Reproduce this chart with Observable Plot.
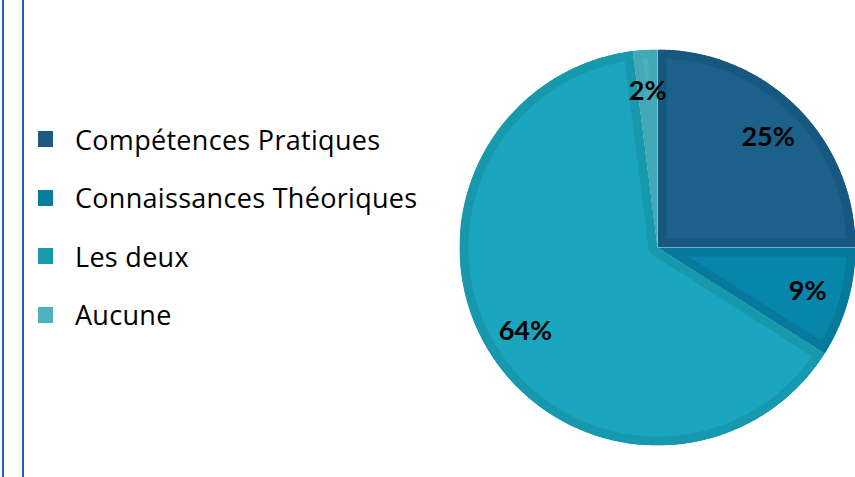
<!DOCTYPE html>
<html><head><meta charset="utf-8">
<script src="https://cdn.jsdelivr.net/npm/d3@7"></script>
<script src="https://cdn.jsdelivr.net/npm/@observablehq/plot@0.6"></script>
<style>
html,body{margin:0;padding:0;background:#fff;}
#wrap{position:relative;width:855px;height:477px;overflow:hidden;font-family:"Open Sans",Lato,sans-serif;}
.vline{position:absolute;top:0;bottom:0;width:2px;background:#2265a3;}
#legend{position:absolute;left:38px;top:110px;}
.row{height:58.5px;display:flex;align-items:center;}
.sw{width:15px;height:16px;margin-right:22px;flex:none;}
.lab{font-size:27px;letter-spacing:0.3px;color:#000;white-space:nowrap;font-variant-ligatures:none;}
#chart{position:absolute;left:0;top:0;}
</style></head><body>
<div id="wrap"><div id="chart"></div><div id="legend"></div><div class="vline" style="left:2px"></div><div class="vline" style="left:22px"></div></div>
<script>
// ---- data ----
const categories = ["Compétences Pratiques", "Connaissances Théoriques", "Les deux", "Aucune"];
const values = [25, 9, 64, 2];
const labels = ["25%", "9%", "64%", "2%"];

// ---- styles ----
const fillColors = ["#1c6189", "#0785ab", "#19a6be", "#4bb1bd"];
const borderColors = ["#175881", "#06799c", "#1798ad", "#44a9b6"];
const legendColors = ["#1d5a83", "#077c9d", "#1a98ac", "#4cb2be"];

const W = 855, H = 477, CX = 657, CY = 247, R = 198;

const rows = categories.map((c, i) => ({cat: c, value: values[i], label: labels[i], i}));
const arcs = d3.pie().sort(null).value(d => d.value)(rows);

const pts = [];
const labelPts = [];
for (const a of arcs) {
  const i = a.data.i;
  pts.push({i, x: 0, y: 0});
  const n = Math.max(2, Math.ceil((a.endAngle - a.startAngle) / (Math.PI / 360)));
  for (let k = 0; k <= n; k++) {
    const t = a.startAngle + (a.endAngle - a.startAngle) * k / n;
    pts.push({i, x: Math.sin(t), y: Math.cos(t)});
  }
  pts.push({i, x: 0, y: 0});
  const m = (a.startAngle + a.endAngle) / 2;
  labelPts.push({i, x: 0.79 * Math.sin(m), y: 0.79 * Math.cos(m), label: a.data.label});
}

function insetBorder(index, scales, vals, dims, context, next) {
  const g = next(index, scales, vals, dims, context);
  const sel = d3.select(g);
  sel.selectAll("path").each(function (_, k) {
    const id = "slice-clip-" + k;
    sel.insert("clipPath", ":first-child").attr("id", id)
      .append("path").attr("d", this.getAttribute("d"));
    d3.select(this).attr("clip-path", `url(#${id})`);
  });
  return g;
}

const chart = Plot.plot({
  width: W, height: H, margin: 0,
  x: {domain: [(0 - CX) / R, (W - CX) / R], axis: null},
  y: {domain: [(CY - H) / R, CY / R], axis: null},
  color: {type: "identity"},
  marks: [
    Plot.line(pts, {
      x: "x", y: "y", z: "i",
      fill: d => fillColors[d.i],
      stroke: d => borderColors[d.i],
      strokeWidth: 18, strokeLinejoin: "miter", curve: "linear",
      render: insetBorder
    }),
    Plot.text(labelPts, {
      x: "x", y: "y", text: "label",
      fontSize: 27, fontWeight: "bold", fill: "#000",
      fontFamily: "Lato, 'Open Sans', sans-serif"
    })
  ]
});
document.getElementById("chart").appendChild(chart);

const legend = d3.select("#legend");
categories.forEach((c, i) => {
  const r = legend.append("div").attr("class", "row");
  r.append("div").attr("class", "sw").style("background", legendColors[i]);
  r.append("div").attr("class", "lab").text(c);
});
</script>
</body></html>
